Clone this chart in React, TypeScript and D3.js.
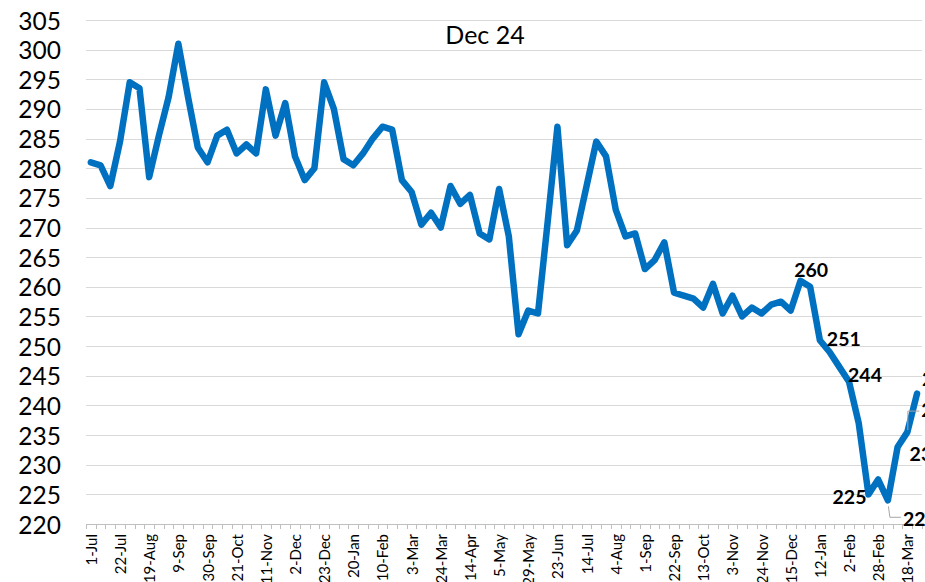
import React from "react";
import * as d3 from "d3";

const categories: string[] = [
  "1-Jul", "8-Jul", "15-Jul", "22-Jul", "29-Jul", "12-Aug", "19-Aug", "26-Aug", "2-Sep", "9-Sep",
  "16-Sep", "23-Sep", "30-Sep", "7-Oct", "14-Oct", "21-Oct", "28-Oct", "4-Nov", "11-Nov", "18-Nov",
  "25-Nov", "2-Dec", "9-Dec", "16-Dec", "23-Dec", "6-Jan", "13-Jan", "20-Jan", "27-Jan", "3-Feb",
  "10-Feb", "17-Feb", "24-Feb", "3-Mar", "10-Mar", "17-Mar", "24-Mar", "31-Mar", "7-Apr", "14-Apr",
  "21-Apr", "28-Apr", "5-May", "12-May", "19-May", "29-May", "9-Jun", "16-Jun", "23-Jun", "30-Jun",
  "7-Jul", "14-Jul", "21-Jul", "28-Jul", "4-Aug", "11-Aug", "25-Aug", "1-Sep", "8-Sep", "15-Sep",
  "22-Sep", "29-Sep", "6-Oct", "13-Oct", "20-Oct", "27-Oct", "3-Nov", "10-Nov", "17-Nov", "24-Nov",
  "1-Dec", "8-Dec", "15-Dec", "22-Dec", "5-Jan", "12-Jan", "19-Jan", "26-Jan", "2-Feb", "9-Feb",
  "16-Feb", "28-Feb", "4-Mar", "11-Mar", "18-Mar", "25-Mar",
];

const values: number[] = [
  281, 280.5, 277, 284.5, 294.5, 293.5, 278.5, 285.5, 292, 301,
  292, 283.5, 281, 285.5, 286.5, 282.5, 284, 282.5, 293.3, 285.5,
  291, 282, 278, 280, 294.5, 290, 281.5, 280.5, 282.5, 285,
  287, 286.5, 278, 276, 270.5, 272.5, 270, 277, 274, 275.5,
  269, 268, 276.5, 268.5, 252, 256, 255.5, 271, 287, 267,
  269.5, 277, 284.5, 282, 273, 268.5, 269, 263, 264.5, 267.5,
  259, 258.5, 258, 256.5, 260.5, 255.5, 258.5, 255, 256.5, 255.5,
  257, 257.5, 256, 261, 260, 251, 249, 246.5, 244, 237,
  225, 227.5, 224, 233, 235.5, 242,
];

const yTicks: number[] = [220, 225, 230, 235, 240, 245, 250, 255, 260, 265, 270, 275, 280, 285, 290, 295, 300, 305];

const annotationText = "Dec 24";

// indices of labelled points
const labelledPoints: number[] = [74, 75, 78, 80, 82, 83, 84, 85];

type Place = { dx: number; dy: number; anchor: "start" | "middle" | "end"; leader?: number[][] };
const placement: Record<number, Place> = {
  74: { dx: 1, dy: -17, anchor: "middle" },
  75: { dx: 7, dy: -2, anchor: "start" },
  78: { dx: -1, dy: -7, anchor: "start" },
  80: { dx: -2, dy: 2, anchor: "end" },
  82: { dx: 15, dy: 18, anchor: "start", leader: [[0.5, 6], [2, 17], [13, 17]] },
  83: { dx: 12, dy: 7, anchor: "start" },
  84: { dx: 14, dy: -23, anchor: "start", leader: [[0.5, -2], [0.5, -21], [12, -21]] },
  85: { dx: 5, dy: -15, anchor: "start" },
};

const W = 925;
const H = 582;
const plotLeft = 86;
const band = 9.72;
const plotRight = plotLeft + band * categories.length;
const plotTop = 20;
const plotBottom = 524;
const FONT = "Lato, 'Open Sans', sans-serif";

export default function App() {
  const x = d3
    .scaleBand<number>()
    .domain(categories.map((_, i) => i))
    .range([plotLeft, plotRight])
    .paddingInner(0)
    .paddingOuter(0);
  const y = d3.scaleLinear().domain([220, 305]).range([plotBottom, plotTop]);
  const cx = (i: number) => (x(i) as number) + x.bandwidth() / 2;

  const line = d3
    .line<number>()
    .x((_, i) => cx(i))
    .y((d) => y(d));

  const tickXs = d3.range(categories.length + 1).map((k) => plotLeft + k * x.bandwidth());

  return (
    <svg
      width={W}
      height={H}
      style={{ position: "absolute", left: 0, top: 0, background: "#fff" }}
      fontFamily={FONT}
    >
      {/* gridlines */}
      {yTicks.map((t) => (
        <line
          key={"g" + t}
          x1={plotLeft}
          x2={plotRight}
          y1={Math.round(y(t)) + 0.5}
          y2={Math.round(y(t)) + 0.5}
          stroke={t === 220 ? "#bfbfbf" : "#d9d9d9"}
          strokeWidth={1}
        />
      ))}
      {/* x tick marks */}
      {tickXs.map((tx, k) => (
        <line
          key={"t" + k}
          x1={Math.round(tx) + 0.5}
          x2={Math.round(tx) + 0.5}
          y1={plotBottom}
          y2={plotBottom + 5}
          stroke="#bfbfbf"
          strokeWidth={1}
        />
      ))}
      {/* y labels */}
      {yTicks.map((t) => (
        <text
          key={"y" + t}
          x={61}
          y={y(t)}
          textAnchor="end"
          dominantBaseline="central"
          fontSize={24.5}
          fill="#000"
        >
          {t}
        </text>
      ))}
      {/* x labels */}
      {categories.map((c, i) =>
        i % 3 === 0 ? (
          <text
            key={"x" + i}
            transform={`translate(${cx(i)},${plotBottom + 10}) rotate(-90)`}
            textAnchor="end"
            dominantBaseline="central"
            fontSize={15}
            fill="#000"
          >
            {c}
          </text>
        ) : null
      )}
      {/* annotation */}
      <text x={485} y={34} textAnchor="middle" dominantBaseline="central" fontSize={25} fill="#000">
        {annotationText}
      </text>
      {/* series line */}
      <path
        d={line(values) || ""}
        fill="none"
        stroke="#0070C0"
        strokeWidth={6.5}
        strokeLinejoin="round"
        strokeLinecap="round"
      />
      {/* leader lines and data labels */}
      {labelledPoints.map((i) => {
        const p = placement[i];
        const px = cx(i);
        const py = y(values[i]);
        return (
          <g key={"l" + i}>
            {p.leader ? (
              <polyline
                points={p.leader.map(([a, b]) => `${px + a},${py + b}`).join(" ")}
                fill="none"
                stroke="#a6a6a6"
                strokeWidth={1}
              />
            ) : null}
            <text
              x={px + p.dx}
              y={py + p.dy}
              textAnchor={p.anchor}
              dominantBaseline="central"
              fontSize={19.5}
              fontWeight="bold"
              fill="#000"
            >
              {Math.round(values[i])}
            </text>
          </g>
        );
      })}
    </svg>
  );
}
